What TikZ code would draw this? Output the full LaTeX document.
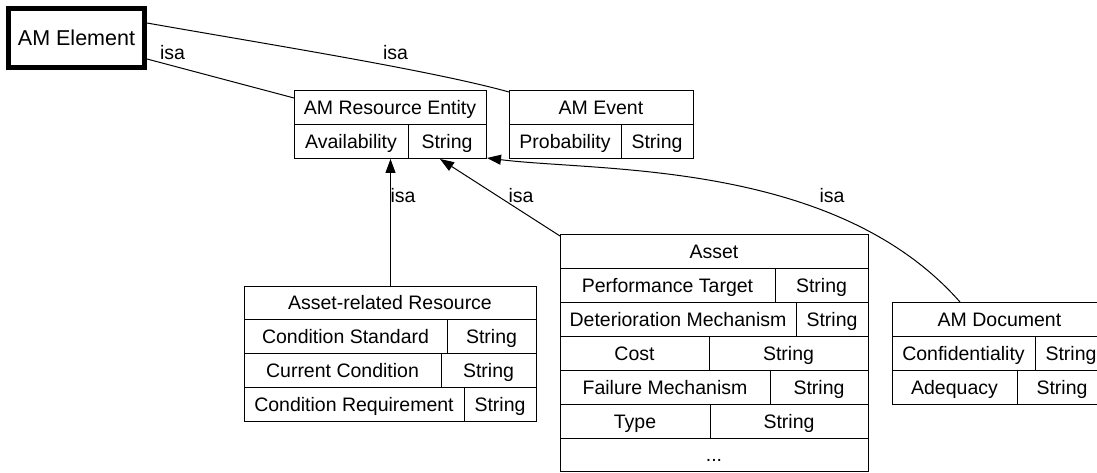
\documentclass[tikz,border=0pt]{standalone}
\usepackage{fontspec}
\setmainfont{Liberation Sans}
\usetikzlibrary{arrows.meta,calc}
\newcommand{\tabfont}{\fontsize{19.5}{22}\selectfont}
\newcommand{\tcell}[6]{\node[cell, minimum width={(#4-#2)*1pt}, minimum height={(#5-#3)*1pt}] (#1) at ({(#2+#4)/2},{(#3+#5)/2}) {#6};}
\begin{document}
\begin{tikzpicture}[x=1pt,y=-1pt,
  cell/.style={draw, line width=1pt, inner sep=0pt, outer sep=0pt, text height=14pt, text depth=0pt, font=\tabfont},
  lbl/.style={inner sep=0pt, text height=14pt, text depth=0pt, font=\tabfont},
  plain/.style={draw, line width=1pt},
  isa/.style={draw, line width=1pt, -{Triangle[length=14pt,width=10pt]}}]
\fill[white] (0,0) rectangle (1097,473);
\useasboundingbox (0,0) rectangle (1097,473);
% AM Element
\node[draw, line width=5pt, inner sep=0pt, minimum width=136pt, minimum height=59pt,
      text height=15.5pt, text depth=0pt, font=\fontsize{21.5}{24}\selectfont] (amel) at (76.5,38) {AM Element};
% AM Resource Entity
\tcell{res}{294}{91}{486}{125}{AM Resource Entity}
\tcell{resA}{294}{125}{408}{159}{Availability}
\tcell{resT}{408}{125}{486}{159}{String}
% AM Event
\tcell{evt}{509}{91}{693}{125}{AM Event}
\tcell{evtA}{509}{125}{621}{159}{Probability}
\tcell{evtT}{621}{125}{693}{159}{String}
% Asset-related Resource
\tcell{arr}{244}{286}{536}{319}{Asset-related Resource}
\tcell{arrA1}{244}{319}{447}{353}{Condition Standard}
\tcell{arrT1}{447}{319}{536}{353}{String}
\tcell{arrA2}{244}{353}{441}{387}{Current Condition}
\tcell{arrT2}{441}{353}{536}{387}{String}
\tcell{arrA3}{244}{387}{464}{421}{Condition Requirement}
\tcell{arrT3}{464}{387}{536}{421}{String}
% Asset
\tcell{asset}{560}{234}{868}{268}{Asset}
\tcell{asA1}{560}{268}{775}{302}{Performance Target}
\tcell{asT1}{775}{268}{868}{302}{String}
\tcell{asA2}{560}{302}{796}{336}{Deterioration Mechanism}
\tcell{asT2}{796}{302}{868}{336}{String}
\tcell{asA3}{560}{336}{709}{370}{Cost}
\tcell{asT3}{709}{336}{868}{370}{String}
\tcell{asA4}{560}{370}{770}{404}{Failure Mechanism}
\tcell{asT4}{770}{370}{868}{404}{String}
\tcell{asA5}{560}{404}{710}{438}{Type}
\tcell{asT5}{710}{404}{868}{438}{String}
\tcell{asMore}{560}{438}{868}{471}{...}
% AM Document
\tcell{doc}{892}{302}{1107}{336}{AM Document}
\tcell{docA1}{892}{336}{1035}{370}{Confidentiality}
\tcell{docT1}{1035}{336}{1107}{370}{String}
\tcell{docA2}{892}{370}{1017}{404}{Adequacy}
\tcell{docT2}{1017}{370}{1107}{404}{String}
% connectors
\draw[plain] ($(amel.north east)+(0,53)$) -- ($(res.north west)+(0,7)$);
\draw[plain] ($(amel.north east)+(0,17)$) .. controls (260,43) and (430,70) .. ($(evt.north west)+(0,1)$);
\draw[isa] ($(arr.north west)+(146.5,0)$) -- ($(resA.south west)+(96.5,0)$);
\draw[isa] ($(asset.north west)+(0,2)$) -- ($(resT.south west)+(32,0)$);
\draw[isa] ($(doc.north west)+(68,0)$) .. controls (835,160) and (600,172) .. ($(resT.south east)+(1,-1)$);
% labels
\node[lbl] (l1) at (172.5,53) {isa};
\node[lbl] (l2) at (395.5,53) {isa};
\node[lbl] (l3) at (403,196) {isa};
\node[lbl] (l4) at (521,196) {isa};
\node[lbl] (l5) at (832,196) {isa};
\end{tikzpicture}
\end{document}
